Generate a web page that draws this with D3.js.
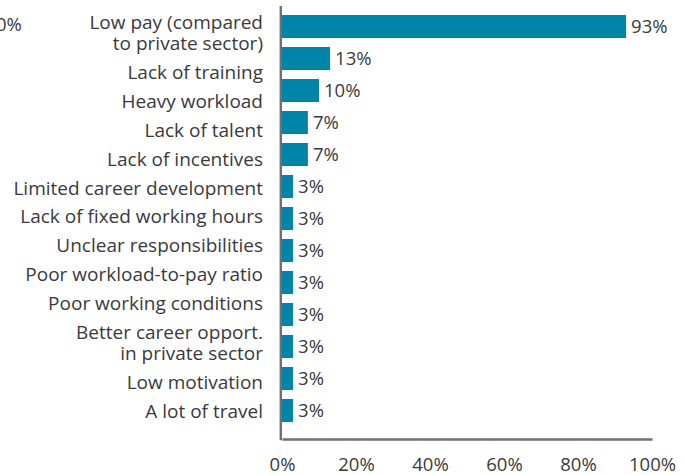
<!DOCTYPE html>
<html>
<head>
<meta charset="utf-8">
<script src="https://cdn.jsdelivr.net/npm/d3@7"></script>
<style>
  html, body { margin: 0; padding: 0; background: #ffffff; }
  svg { display: block; font-family: "Open Sans", "DejaVu Sans", sans-serif; }
</style>
</head>
<body>
<svg id="chart" width="684" height="475"></svg>
<script>
// Reasons cited for staff leaving, share of respondents (%)
const categories = [
  "Low pay (compared\nto private sector)",
  "Lack of training",
  "Heavy workload",
  "Lack of talent",
  "Lack of incentives",
  "Limited career development",
  "Lack of fixed working hours",
  "Unclear responsibilities",
  "Poor workload-to-pay ratio",
  "Poor working conditions",
  "Better career opport.\nin private sector",
  "Low motivation",
  "A lot of travel"
];
const shares = [93, 13, 10, 7, 7, 3, 3, 3, 3, 3, 3, 3, 3];
const tickValues = [0, 20, 40, 60, 80, 100];

const BAR = "#0085a8";
const INK = "#3a3a3a";
const AXIS = "#707070";

const svg = d3.select("#chart");

const x = d3.scaleLinear().domain([0, 100]).range([282, 652]);
const y = d3.scaleBand()
  .domain(categories)
  .range([10.5, 426.5])
  .paddingInner(0.28)
  .paddingOuter(0.14);

// bars
svg.append("g")
  .selectAll("rect")
  .data(categories)
  .join("rect")
  .attr("x", x(0))
  .attr("y", d => y(d))
  .attr("width", (d, i) => x(shares[i]) - x(0))
  .attr("height", y.bandwidth())
  .attr("fill", BAR);

// value labels at the bar ends
svg.append("g")
  .selectAll("text")
  .data(categories)
  .join("text")
  .attr("x", (d, i) => x(shares[i]) + 5)
  .attr("y", d => y(d) + y.bandwidth() / 2)
  .attr("dy", "0.36em")
  .attr("font-size", 18.5)
  .attr("fill", INK)
  .text((d, i) => shares[i] + "%");

// category labels, set as a right-aligned text column
const lineHeight = 21;
const itemGap = 7.9;
const labelGroup = svg.append("g")
  .attr("font-size", 19)
  .attr("fill", INK)
  .attr("text-anchor", "end");
let baseline = 29;
categories.forEach(c => {
  const lines = c.split("\n");
  const t = labelGroup.append("text").attr("x", 263);
  lines.forEach((ln, k) => {
    t.append("tspan").attr("x", 263).attr("y", baseline + k * lineHeight).text(ln);
  });
  baseline += lines.length * lineHeight + itemGap;
});

// bottom axis
const xAxis = d3.axisBottom(x)
  .tickValues(tickValues)
  .tickSize(0)
  .tickSizeOuter(0)
  .tickPadding(19)
  .tickFormat(d => d + "%");

const gx = svg.append("g")
  .attr("transform", "translate(0,439)")
  .call(xAxis);
gx.select(".domain").attr("stroke", AXIS).attr("stroke-width", 2.4);
gx.selectAll("text")
  .attr("font-family", "Open Sans, DejaVu Sans, sans-serif")
  .attr("font-size", 18.5)
  .attr("fill", INK);

// vertical baseline
svg.append("line")
  .attr("x1", x(0) - 1.2).attr("x2", x(0) - 1.2)
  .attr("y1", 6).attr("y2", 440.2)
  .attr("stroke", AXIS)
  .attr("stroke-width", 2.4);

// stray label at the left edge
svg.append("text")
  .attr("x", -4)
  .attr("y", 30.5)
  .attr("font-size", 18.5)
  .attr("fill", INK)
  .text("0%");
</script>
</body>
</html>
